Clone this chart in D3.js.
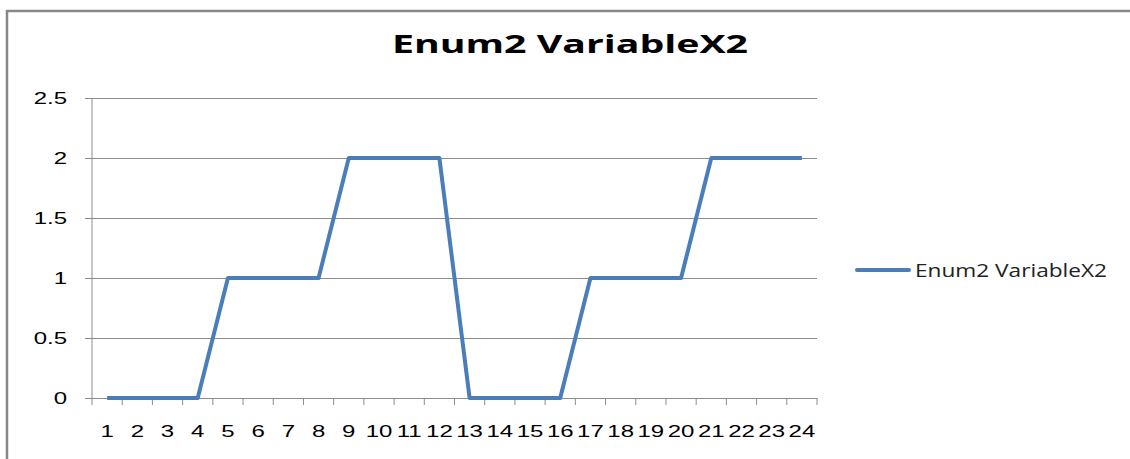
<!DOCTYPE html>
<html>
<head>
<meta charset="utf-8">
<script src="https://cdn.jsdelivr.net/npm/d3@7"></script>
<style>
  body { margin: 0; background: #fff; }
  svg { display: block; font-family: "Open Sans", sans-serif; }
</style>
</head>
<body>
<svg id="chart" width="1130" height="459"></svg>
<script>
// chart data
const categories = d3.range(1, 25).map(String)
const seriesName = "Enum2 VariableX2"
const values = [0, 0, 0, 0, 1, 1, 1, 1, 2, 2, 2, 2, 0, 0, 0, 0, 1, 1, 1, 1, 2, 2, 2, 2]
const yTicks = [0, 0.5, 1, 1.5, 2, 2.5]

const svg = d3.select("#chart")
const margin = {top: 98, left: 92, right: 313, bottom: 61}
const width = 1130 - margin.left - margin.right
const height = 459 - margin.top - margin.bottom
const blue = "#4a7ebb"
const stretch = 1.5 // the original picture is wider than tall fonts

// outer frame (only top and left edges visible)
svg.append("path")
  .attr("d", "M7,459 V11 H1130")
  .attr("fill", "none")
  .attr("stroke", "#888")
  .attr("stroke-width", 2.5)

// title
svg.append("text")
  .attr("x", 392).attr("y", 53)
  .attr("textLength", 356)
  .attr("lengthAdjust", "spacingAndGlyphs")
  .style("font-size", "25.5px")
  .style("font-weight", "bold")
  .attr("fill", "#000")
  .text(seriesName)

const g = svg.append("g")
  .attr("transform", "translate(" + margin.left + "," + margin.top + ")")

const x = d3.scaleBand().domain(categories).range([0, width])
const y = d3.scaleLinear().domain([0, 2.5]).range([height, 0])

// gridlines + y axis
const yAxis = g.append("g")
  .call(d3.axisLeft(y).tickValues(yTicks).tickSize(0)
    .tickFormat(d => d3.format("")(d)))
yAxis.select(".domain").remove()
yAxis.selectAll(".tick line")
  .attr("x1", -7)
  .attr("x2", width)
  .attr("stroke", "#8c8c8c")
yAxis.selectAll(".tick text")
  .attr("fill", "#000")
  .style("font-size", "16px")
  .attr("x", 0)
  .attr("dy", "0.36em")
  .attr("transform", "translate(-25,0) scale(" + stretch + ",1)")

g.append("line")
  .attr("x1", 0).attr("x2", 0)
  .attr("y1", 0).attr("y2", height)
  .attr("stroke", "#8c8c8c")

// x axis
const xAxis = g.append("g")
  .attr("transform", "translate(0," + height + ")")
  .call(d3.axisBottom(x).tickSize(0))
xAxis.select(".domain").attr("stroke", "#8c8c8c")
xAxis.selectAll(".tick text")
  .attr("fill", "#000")
  .style("font-size", "16px")
  .attr("y", 0)
  .attr("dy", 0)
  .attr("transform", "translate(0,39) scale(" + stretch + ",1)")

// tick marks between categories
g.append("g")
  .selectAll("line")
  .data(d3.range(categories.length + 1))
  .join("line")
  .attr("x1", i => i * x.bandwidth())
  .attr("x2", i => i * x.bandwidth())
  .attr("y1", height)
  .attr("y2", height + 7)
  .attr("stroke", "#8c8c8c")

// series line
const line = d3.line()
  .x((d, i) => x(categories[i]) + x.bandwidth() / 2)
  .y(d => y(d))

g.append("path")
  .datum(values)
  .attr("d", line)
  .attr("fill", "none")
  .attr("stroke", blue)
  .attr("stroke-width", 4)
  .attr("stroke-linejoin", "round")

// legend
const legend = svg.append("g").attr("transform", "translate(857,270)")
legend.append("line")
  .attr("x1", 0).attr("x2", 52)
  .attr("stroke", blue)
  .attr("stroke-width", 4)
  .attr("stroke-linecap", "round")
legend.append("text")
  .attr("x", 58).attr("y", 7)
  .attr("textLength", 192)
  .attr("lengthAdjust", "spacingAndGlyphs")
  .style("font-size", "18px")
  .attr("fill", "#222")
  .text(seriesName)
</script>
</body>
</html>
